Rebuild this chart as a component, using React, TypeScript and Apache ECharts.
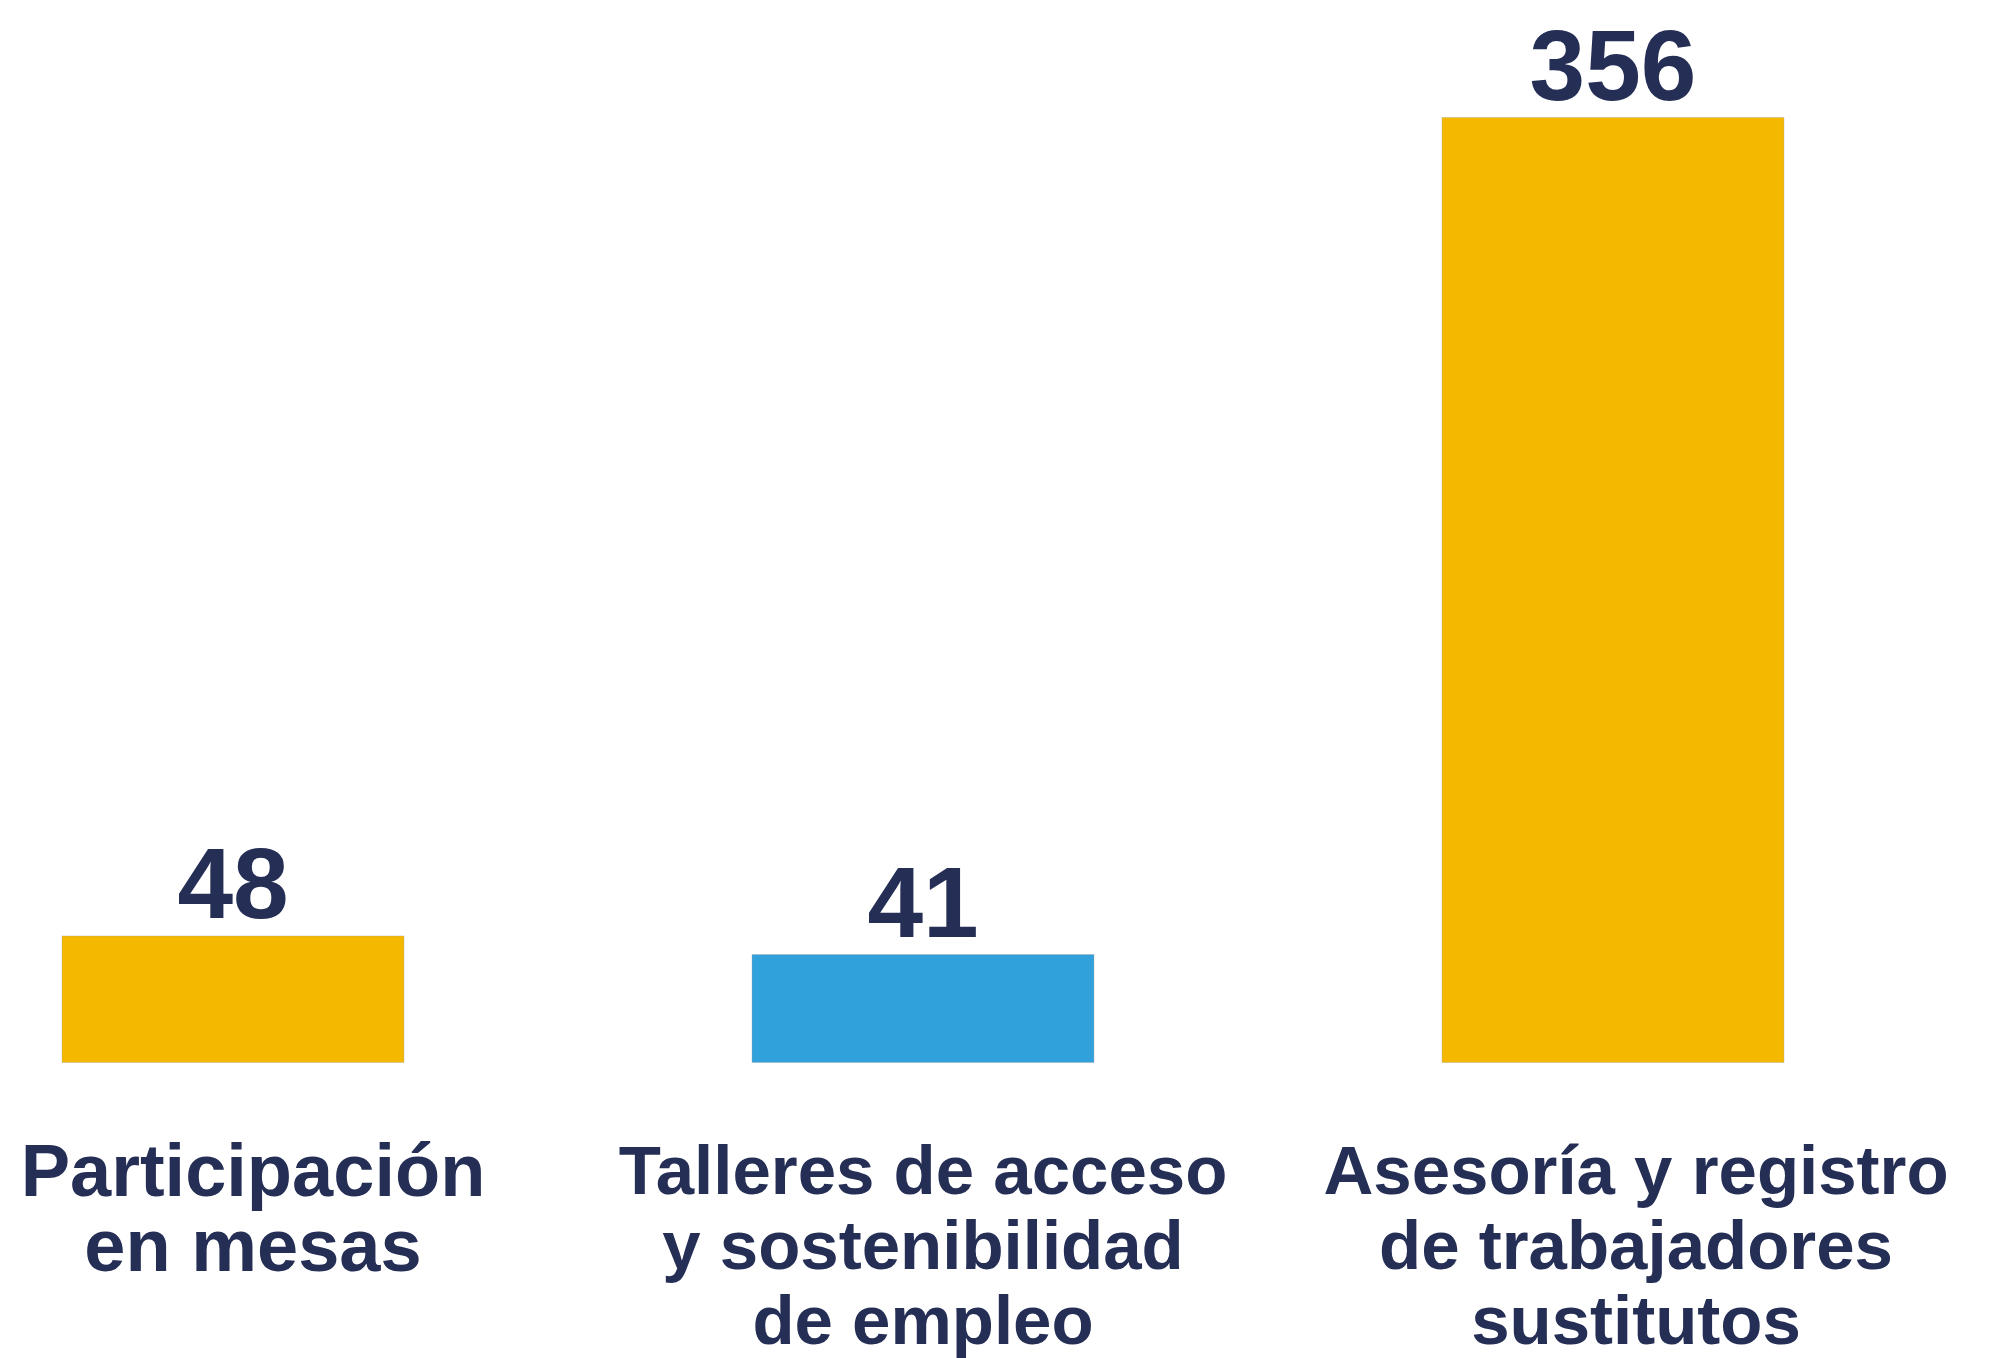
import React, { useEffect, useRef } from "react";
import * as echarts from "echarts";

const categories = [
  "Participación\nen mesas",
  "Talleres de acceso\ny sostenibilidad\nde empleo",
  "Asesoría y registro\nde trabajadores\nsustitutos",
];
const values = [48, 41, 356];
const barColors = ["#F5B800", "#31A1DB", "#F5B800"];
const labelShift = [40, 0, 46];
const labelSizes = [74, 69, 69];

export default function App() {
  const ref = useRef<HTMLDivElement>(null);
  useEffect(() => {
    if (!ref.current) return;
    const chart = echarts.init(ref.current, null, { renderer: "svg" });
    const navy = "#252E55";
    const font = "'Liberation Sans', Arial, sans-serif";
    chart.setOption({
      animation: false,
      backgroundColor: "#ffffff",
      grid: { left: 112, right: 56, top: 0, bottom: 286, containLabel: false },
      xAxis: {
        type: "category",
        data: categories.map((c, i) => ({
          value: c,
          textStyle: { padding: [0, 0, 0, labelShift[i]], fontSize: labelSizes[i] },
        })),
        axisLine: { show: false },
        axisTick: { show: false },
        axisLabel: {
          interval: 0,
          margin: 70,
          color: navy,
          fontFamily: font,
          fontWeight: "bold",
          fontSize: 69,
          lineHeight: 75,
          align: "center",
        },
      },
      yAxis: {
        type: "value",
        min: 0,
        max: 400,
        show: false,
        splitLine: { show: false },
      },
      series: [
        {
          type: "bar",
          barWidth: 343,
          data: values.map((v, i) => ({
            value: v,
            itemStyle: {
              color: barColors[i],
              borderColor: "rgba(160,160,160,0.35)",
              borderWidth: 1,
            },
          })),
          label: {
            show: true,
            position: "top",
            distance: 2,
            color: navy,
            fontFamily: font,
            fontWeight: "bold",
            fontSize: 100,
          },
        },
      ],
    });
    return () => chart.dispose();
  }, []);
  return (
    <div style={{ position: "fixed", left: 0, top: 0, width: 2014, height: 1358, overflow: "hidden", background: "#fff" }}>
      <div
        ref={ref}
        style={{ position: "absolute", left: -224, top: 0, width: 2238, height: 1358 }}
      />
    </div>
  );
}
